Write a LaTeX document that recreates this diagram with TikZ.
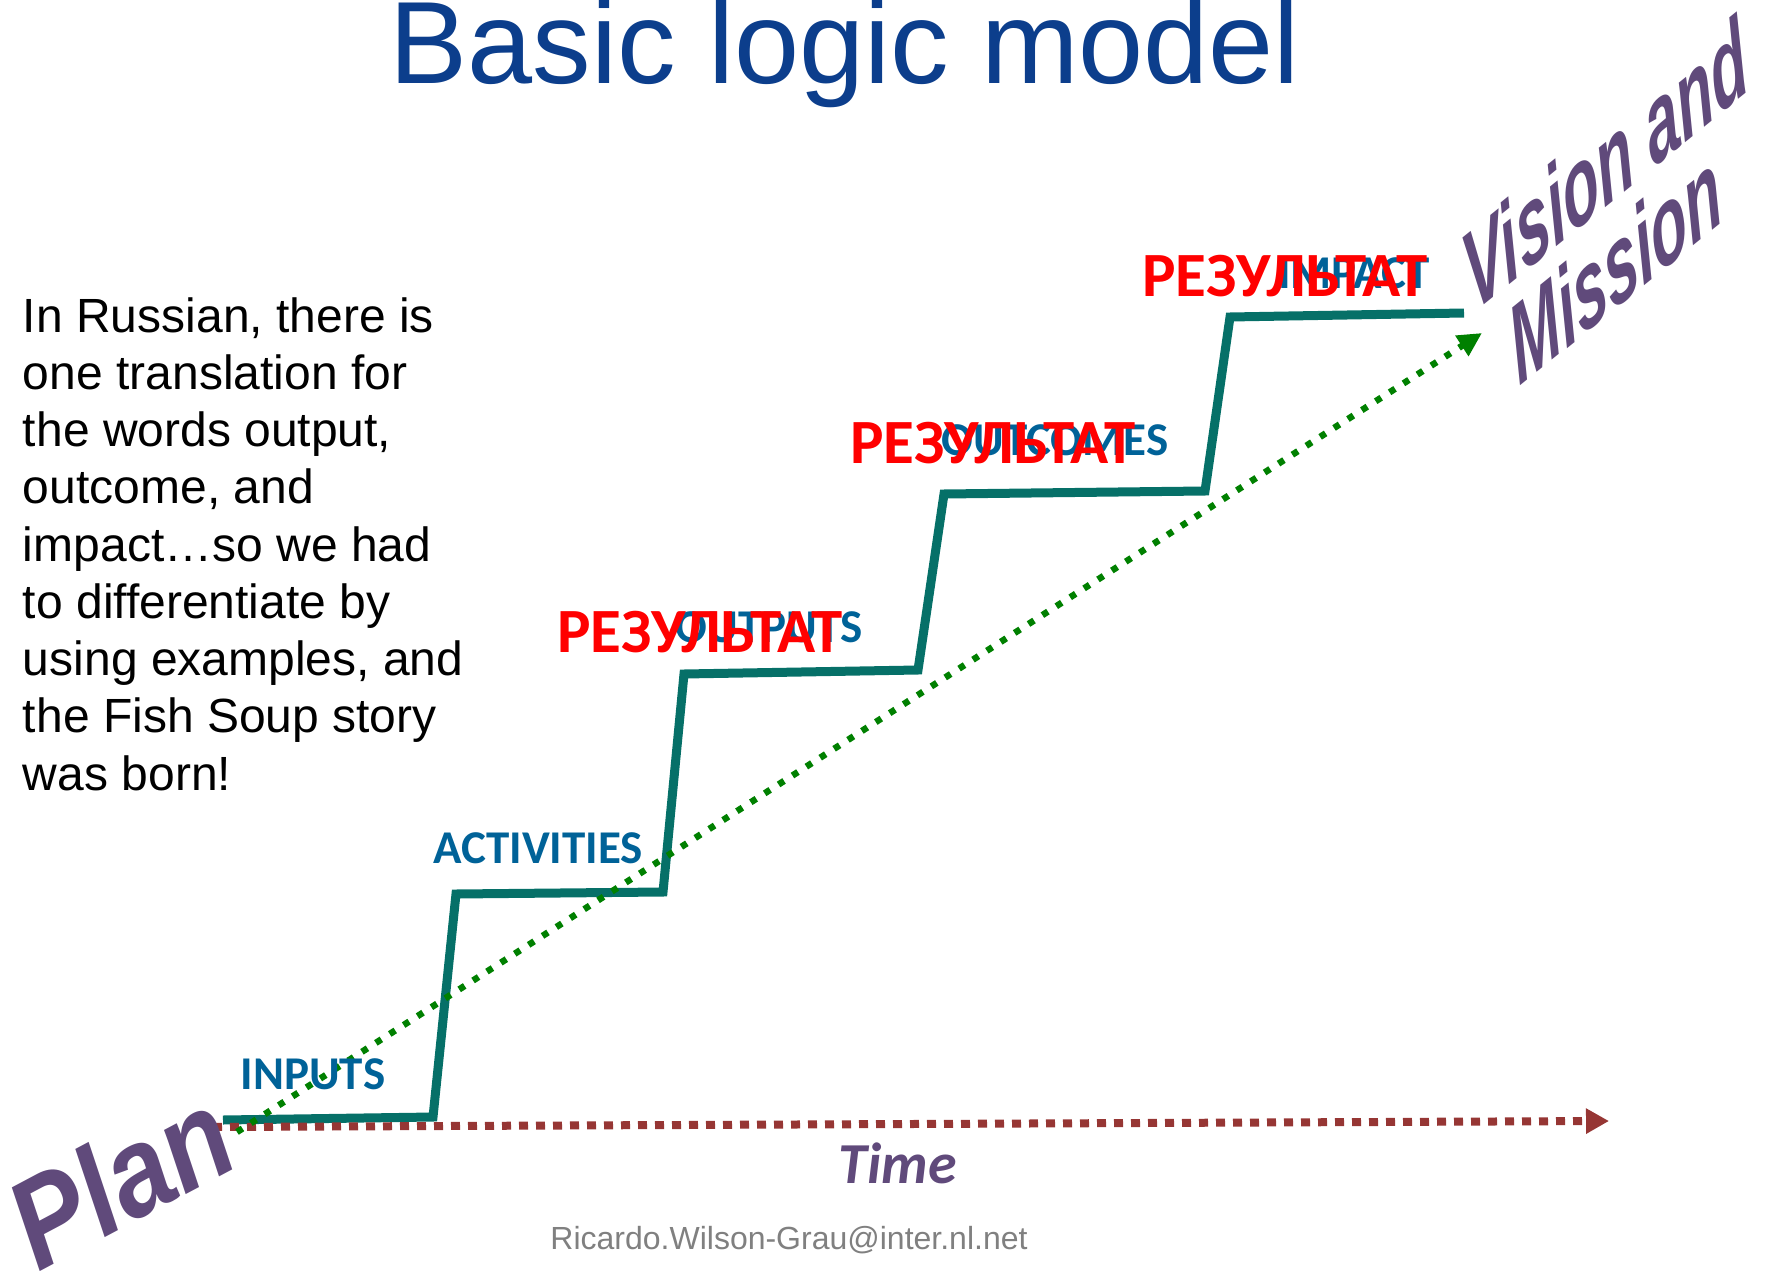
\documentclass[tikz,border=0pt]{standalone}
\usepackage{fontspec}
\setmainfont{Liberation Sans}
\newfontfamily\calibri{Carlito}
\usetikzlibrary{arrows.meta}
\definecolor{titleblue}{RGB}{12,62,140}
\definecolor{stepteal}{RGB}{6,112,104}
\definecolor{labelblue}{RGB}{0,98,152}
\definecolor{visionpurple}{RGB}{96,74,123}
\definecolor{timered}{RGB}{150,54,52}
\definecolor{pathgreen}{RGB}{0,128,0}

\begin{document}
\begin{tikzpicture}[x=1pt,y=-1pt]
	\tikzstyle{every node}=[inner sep=0pt,outer sep=0pt]
	\tikzstyle{stage}=[anchor=base,text=labelblue,font=\calibri\bfseries\fontsize{47}{47}\selectfont]
	\tikzstyle{rezultat}=[anchor=base,text=red,font=\calibri\bfseries\fontsize{63}{63}\selectfont]
	\tikzstyle{slanted}=[anchor=base,text=visionpurple,font=\bfseries\itshape\fontsize{82}{82}\selectfont,cm={0.676,0.547,-0.27,1.272,(0,0)}]
	\tikzstyle{stair}=[draw=stepteal,line width=9pt,line join=miter]
	\tikzstyle{timeline}=[draw=timered,line width=8pt,dash pattern=on 9pt off 8pt,-{Triangle[length=23pt,width=24pt]}]
	\tikzstyle{growth}=[draw=pathgreen,line width=6.5pt,dash pattern=on 6.5pt off 10pt,-{Triangle[length=24pt,width=23pt]}]

	\useasboundingbox (0,0) rectangle (1766,1273);

	\node[anchor=base,text=titleblue,font=\fontsize{117}{117}\selectfont] (title) at (845,84) {Basic logic model};

	\node[anchor=base west] (story) at (23,332) {\parbox[t]{470pt}{\fontsize{48}{57.25}\selectfont
		In Russian, there is\\
		one translation for\\
		the words output,\\
		outcome, and\\
		impact\ldots so we had\\
		to differentiate by\\
		using examples, and\\
		the Fish Soup story\\
		was born!}};

	% staircase
	\coordinate (s0) at (223,1120);
	\coordinate (s1) at (433,1117);
	\coordinate (s2) at (456,894);
	\coordinate (s3) at (663,892);
	\coordinate (s4) at (684,674);
	\coordinate (s5) at (918,670);
	\coordinate (s6) at (944,494);
	\coordinate (s7) at (1205,491);
	\coordinate (s8) at (1230,317);
	\coordinate (s9) at (1464,313);
	\draw[stair] (s0) -- (s1) -- (s2) -- (s3) -- (s4) -- (s5) -- (s6) -- (s7) -- (s8) -- (s9);

	% arrows
	\coordinate (t0) at (213,1127);
	\coordinate (t1) at (1609,1121);
	\draw[timeline] (t0) -- (t1);
	\coordinate (plan) at (237,1132);
	\coordinate (vision) at (1482,333);
	\draw[growth] (plan) -- (vision);

	\node[stage] (inputs) at (313,1089) {INPUTS};
	\node[stage] (activities) at (538,863) {ACTIVITIES};
	\node[stage] (outputs) at (769,642) {OUTPUTS};
	\node[stage] (outcomes) at (1055,455) {OUTCOMES};
	\node[stage] (impact) at (1354,288) {IMPACT};

	\node[rezultat] (rez1) at (700,652) {РЕЗУЛЬТАТ};
	\node[rezultat] (rez2) at (993,463) {РЕЗУЛЬТАТ};
	\node[rezultat] (rez3) at (1285,297) {РЕЗУЛЬТАТ};

	\node[slanted] (visionand) at (1613,201) {Vision and};
	\node[slanted] (mission) at (1623,303) {Mission};
	\node[anchor=base,text=visionpurple,rotate=28,yscale=1.15,font=\bfseries\itshape\fontsize{110}{110}\selectfont] (planlabel) at (141,1218) {Plan};

	\node[anchor=base,text=visionpurple,font=\calibri\bfseries\itshape\fontsize{58}{58}\selectfont] (time) at (898,1183) {Time};
	\node[anchor=base,text=gray,font=\fontsize{32}{32}\selectfont] (mail) at (789,1249) {Ricardo.Wilson-Grau@inter.nl.net};
\end{tikzpicture}
\end{document}
